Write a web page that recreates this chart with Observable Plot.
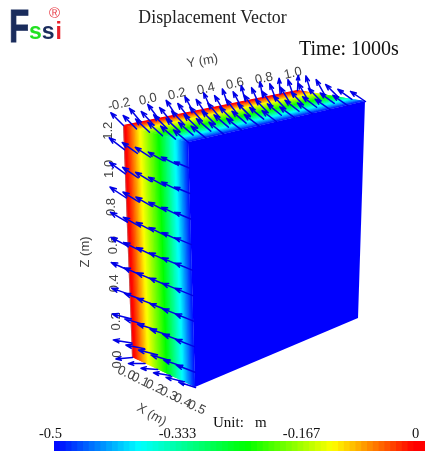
<!DOCTYPE html>
<html><head><meta charset="utf-8">
<script src="https://cdn.jsdelivr.net/npm/d3@7"></script>
<script src="https://cdn.jsdelivr.net/npm/@observablehq/plot@0.6"></script>
<style>
html,body{margin:0;padding:0;background:#fff}
#page{position:relative;width:425px;height:454px;overflow:hidden;filter:blur(0.45px)}
#page svg{position:absolute;left:0;background:transparent}
.t{position:absolute;white-space:pre;font-family:"Liberation Serif",serif;color:#222;line-height:1}
.l{position:absolute;font-family:"Liberation Sans",sans-serif;font-weight:bold;line-height:1}
</style></head><body><div id="page">
<span class="l" style="left:9px;top:3px;font-size:46px;color:#1a2c5c;transform:scaleX(.72);transform-origin:left;-webkit-text-stroke:1px #1a2c5c">F</span>
<span class="l" style="left:29px;top:20px;font-size:23px"><span style="color:#22e022">s</span><span style="color:#1a2c5c">s</span><span style="color:#e8202a;margin-left:1px">i</span></span>
<span class="l" style="left:49px;top:7px;font-size:15px;line-height:.8;font-weight:normal;color:#e8404a">®</span>
<span class="t" style="left:0;width:425px;text-align:center;top:9px;font-size:17.8px">Displacement Vector</span>
<span class="t" style="left:299px;top:38px;font-size:20px;color:#111">Time: 1000s</span>
<span class="t" style="left:213px;top:415px;font-size:15px;color:#111">Unit:   m</span>
</div>
<script>
// Field samples across the block thickness X (m), displacement u (m)
const stripX = [0,.01,.02,.03,.04,.05,.06,.07,.08,.09,.10,.11,.12,.13,.14,.15,.16,.17,.18,.19,.20,.21,.22,.23,.24,.25,.26,.27,.28,.29,.30,.31,.32,.33,.34,.35,.36,.37,.38,.39,.40,.41,.42,.43,.44,.45,.46,.47,.48,.49,.50];
const stripU = [0,-.01,-.02,-.03,-.04,-.05,-.06,-.07,-.08,-.09,-.10,-.11,-.12,-.129,-.137,-.145,-.153,-.161,-.169,-.177,-.185,-.193,-.2,-.208,-.216,-.224,-.232,-.24,-.252,-.263,-.275,-.286,-.298,-.31,-.321,-.333,-.345,-.356,-.368,-.379,-.39,-.401,-.412,-.423,-.434,-.445,-.456,-.467,-.478,-.489,-.5];
const colorStops = [-0.5,-0.385,-0.24,-0.125,-0.015];
const colorRange = ["#0000ff","#00ffff","#00ff00","#ffff00","#ff0000"];

// Arrow grid
const nodeX = [0,.1,.2,.3,.4,.5];
const topY = [-.2,-.08,.04,.16,.28,.4,.52,.64,.76,.88,1.0];
const topDX = [
[-.095,-.10,-.105,-.11,-.112,-.114],
[-.085,-.095,-.10,-.105,-.11,-.114],
[-.078,-.088,-.097,-.103,-.108,-.113],
[-.07,-.082,-.092,-.10,-.108,-.113],
[-.06,-.075,-.088,-.098,-.106,-.113],
[-.05,-.068,-.083,-.096,-.106,-.112],
[-.04,-.06,-.078,-.094,-.105,-.112],
[-.03,-.053,-.074,-.092,-.105,-.112],
[-.02,-.048,-.07,-.09,-.105,-.112],
[-.008,-.043,-.067,-.092,-.105,-.112],
[.005,-.04,-.065,-.095,-.105,-.112]];
const topDZ = [
[.05,.052,.05,.048,.046,.043],
[.058,.056,.054,.05,.046,.043],
[.063,.06,.056,.052,.047,.043],
[.068,.065,.06,.053,.047,.043],
[.073,.07,.063,.055,.047,.043],
[.078,.074,.066,.056,.047,.043],
[.082,.078,.07,.058,.046,.043],
[.085,.083,.073,.059,.046,.043],
[.089,.087,.077,.06,.045,.043],
[.092,.092,.08,.06,.044,.043],
[.093,.095,.082,.061,.044,.043]];
const sideZ = [1.075,.95,.825,.7,.575,.45,.325,.2,.075,0];
const sideDX = [-.115,-.12,-.125,-.13,-.135,-.14,-.145,-.15,-.15,-.135];
const sideDZ = [.04,.035,.03,.022,.014,.005,-.006,-.018,-.03,-.05];
const nodeFade = [1,.85,.7,.55,.4,.25];

// Tick labels
const xTicks = [0,.1,.2,.3,.4,.5];
const yTicks = [-.2,0,.2,.4,.6,.8,1.0];
const zTicks = [0,.2,.4,.6,.8,1.0,1.2];
const legendTicks = [-0.5,-0.333,-0.167,0];
const legendLabels = ["-0.5","-0.333","-0.167","0"];

// Camera: where the eight block corners land on the page
const X0=0,X1=.5,Y0=-.2,Y1=1,Z0=0,Z1=1.2;
const corners = {
  "000":[132,357],"100":[195,387],"010":[295,289],"110":[358,318],
  "001":[123,125],"101":[188,142],"011":[297,90],"111":[365,101]};
function project(X,Y,Z){
  const a=(X-X0)/(X1-X0),b=(Y-Y0)/(Y1-Y0),c=(Z-Z0)/(Z1-Z0);
  const out=[0,0];
  for(const [k,p] of Object.entries(corners)){
    const w=(k[0]=="1"?a:1-a)*(k[1]=="1"?b:1-b)*(k[2]=="1"?c:1-c);
    out[0]+=w*p[0];out[1]+=w*p[1];
  }
  return out;
}
function quadRows(a,b,c,d,u,id){ // two rows of an area strip
  return [{p1:a,p2:c,u,id},{p1:b,p2:d,u,id}];
}
const leftFace=[],topFace=[];
for(let i=0;i<stripX.length-1;i++){
  // each strip runs under the next one, so no seams show between them
  const A=stripX[i],B=stripX[Math.min(i+2,stripX.length-1)],u=stripU[i];
  leftFace.push(...quadRows(project(A,Y0,Z1),project(B,Y0,Z1),project(A,Y0,Z0),project(B,Y0,Z0),u,i));
  topFace.push(...quadRows(project(A,Y0,Z1),project(B,Y0,Z1),project(A,Y1,Z1),project(B,Y1,Z1),u,i));
}
const rightFace=quadRows(project(X1,Y0,Z1),project(X1,Y1,Z1),project(X1,Y0,Z0),project(X1,Y1,Z0),stripU[stripU.length-1],0);
const arrows=[];
sideZ.forEach((Z,r)=>nodeX.forEach((X,c)=>{
  arrows.push({a:project(X,Y0,Z),b:project(X+sideDX[r],Y0,Z+sideDZ[r]*nodeFade[c])});
}));
topY.forEach((Y,r)=>nodeX.forEach((X,c)=>{
  arrows.push({a:project(X,Y,Z1),b:project(X+topDX[r][c],Y,Z1+topDZ[r][c])});
}));
const edge=[project(X0,Y0,Z1),project(X0,Y0,Z0)];
const face=(data)=>Plot.area(data,{x1:d=>d.p1[0],y1:d=>d.p1[1],x2:d=>d.p2[0],y2:d=>d.p2[1],z:"id",fill:"u"});
const lab=(ticks,fn,fmt,rot)=>Plot.text(ticks,{x:d=>fn(d)[0],y:d=>fn(d)[1],text:fmt,rotate:rot,fontSize:13,fontFamily:"Liberation Sans",fill:"#444"});
const one=d=>d.toFixed(1);
const colorScale={type:"linear",domain:colorStops,range:colorRange,clamp:true};

const main=Plot.plot({
  width:425,height:454,margin:0,
  x:{domain:[0,425],range:[0,425],axis:null},
  y:{domain:[0,454],range:[0,454],axis:null},
  color:colorScale,
  marks:[
    face(rightFace),face(leftFace),face(topFace),
    Plot.line(edge,{x:d=>d[0],y:d=>d[1],stroke:"#999",strokeWidth:.8,strokeOpacity:.6}),
    lab(zTicks,z=>project(-.125,Y0,z-.05),one,-90),
    lab(yTicks,y=>project(-.12,y+.08,1.28),one,-13),
    lab(xTicks,x=>project(-.01+x*1.12,-.24,-.07),one,25),
    lab(["Z (m)"],()=>project(-.35,Y0,.455),d=>d,-90),
    lab(["Y (m)"],()=>project(0,.35,1.47),d=>d,-10),
    lab(["X (m)"],()=>project(.25,-.3,-.18),d=>d,30),
    Plot.arrow(arrows,{x1:d=>d.a[0],y1:d=>d.a[1],x2:d=>d.b[0],y2:d=>d.b[1],stroke:"#0000e6",strokeWidth:1.5,headLength:8,headAngle:38})
  ]
});
main.style.top="0";
document.getElementById("page").prepend(main);

// Colour bar below the figure
const bandW=0.5/64;
const bands=d3.range(64).map(i=>-0.5+i*bandW);
const tickText=(i,dx)=>Plot.text([legendTicks[i]],{x:d=>d,y:1,text:()=>legendLabels[i],dy:-8,dx,fontSize:14.5,fontFamily:"Liberation Serif",fill:"#111"});
const bar=Plot.plot({
  width:425,height:29,marginLeft:54,marginRight:0,marginTop:16,marginBottom:3,
  x:{domain:[-0.5,0],axis:null},
  y:{domain:[0,1],axis:null},
  color:colorScale,
  marks:[
    Plot.rect(bands,{x1:d=>d,x2:d=>d+bandW*1.2,y1:0,y2:1,fill:d=>d+bandW/2}),
    tickText(0,-4),tickText(1,-1),tickText(2,0),tickText(3,-10)
  ]
});
bar.style.top="425px";
document.getElementById("page").appendChild(bar);
</script></body></html>
